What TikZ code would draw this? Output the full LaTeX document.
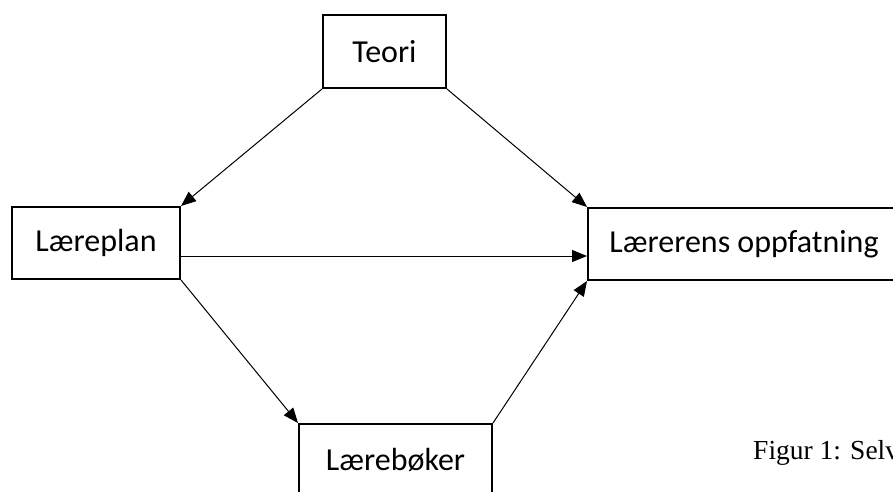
\documentclass[tikz,border=0pt]{standalone}
\usepackage{fontspec}
\setmainfont{Carlito}
\newfontfamily\captionfont{Liberation Serif}
\usetikzlibrary{arrows.meta}

\begin{document}
\begin{tikzpicture}[x=1pt,y=-1pt,>={Triangle[length=15pt,width=12pt]},
  box/.style={draw,line width=2pt,inner sep=0pt,font=\fontsize{32}{38}\selectfont}]
% page frame, the two lower boxes run off the edge
\useasboundingbox (0,0) rectangle (893,491);
\clip (0,0) rectangle (893,491);

% draw the boxes
\node[box,minimum width=123pt,minimum height=73pt] (teori) at (384.5,51.5) {Teori};
\node[box,minimum width=168pt,minimum height=72pt] (laereplan) at (96,243) {Læreplan};
\node[box,minimum width=312pt,minimum height=72pt] (oppfatning) at (744,244) {Lærerens oppfatning};
\node[box,minimum width=193pt,minimum height=72pt] (laereboker) at (395.5,460) {Lærebøker};

% draw the arrows between the corners
\draw[->,line width=1pt] (teori.south west) -- (laereplan.north east);
\draw[->,line width=1pt] (teori.south east) -- (oppfatning.north west);
\draw[->,line width=1pt] ([yshift=-13pt]laereplan.east) -- ([yshift=-13pt]laereplan.east -| oppfatning.west);
\draw[->,line width=1pt] (laereplan.south east) -- (laereboker.north west);
\draw[->,line width=1pt] (laereboker.north east) -- (oppfatning.south west);

% the caption, cut at the right edge
\node[anchor=base west,inner sep=0pt,font=\captionfont\fontsize{27.5}{33}\selectfont] (caption) at (753,459) {Figur 1: Selv};
\end{tikzpicture}
\end{document}
